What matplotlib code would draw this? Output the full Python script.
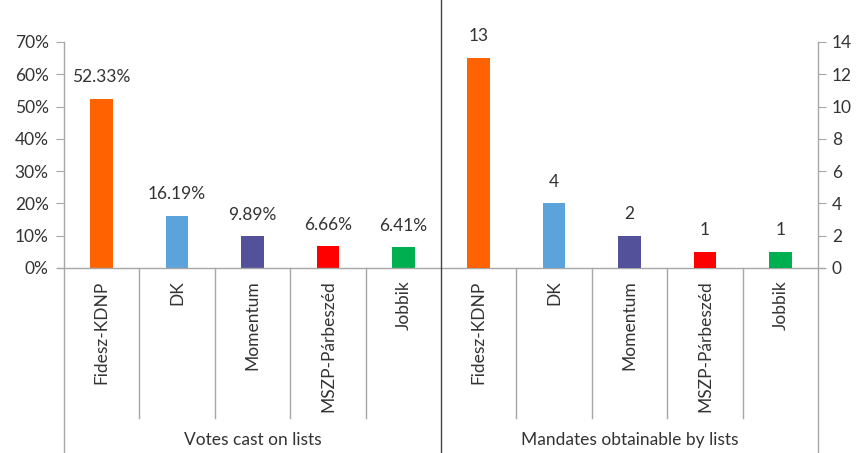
import matplotlib.pyplot as plt
import matplotlib.transforms as mtransforms

parties = ['Fidesz-KDNP', 'DK', 'Momentum', 'MSZP-Párbeszéd', 'Jobbik']
colors = ['#FF6200', '#5BA3DA', '#525199', '#FF0000', '#00B050']
votes = [52.33, 16.19, 9.89, 6.66, 6.41]
mandates = [13, 4, 2, 1, 1]
groups = ['Votes cast on lists', 'Mandates obtainable by lists']

plt.rcParams['font.family'] = ['Lato', 'DejaVu Sans']
txt = '#333333'
grey = '#A6A6A6'
fs = 12.5

fig = plt.figure(figsize=(8.56, 4.53), dpi=100)
ax = fig.add_axes([64/856, 185/453, 754/856, 226/453])
ax2 = ax.twinx()

n = len(parties)
xv = [i + 0.5 for i in range(n)]
xm = [n + i + 0.5 for i in range(n)]

ax.bar(xv, votes, width=0.3, color=colors)
for x, v in zip(xv, votes):
    ax.text(x, v + 4.2, f'{v:.2f}%', ha='center', va='bottom', fontsize=fs, color=txt)

ax2.bar(xm, mandates, width=0.3, color=colors)
for x, v in zip(xm, mandates):
    ax2.text(x, v + 0.85, str(v), ha='center', va='bottom', fontsize=fs, color=txt)

ax.set_xlim(0, 2 * n)
ax.set_ylim(0, 70)
ax2.set_ylim(0, 14)
ax.set_yticks(range(0, 71, 10))
ax.set_yticklabels([f'{t}%' for t in range(0, 71, 10)])
ax2.set_yticks(range(0, 15, 2))

ax.set_xticks(xv + xm)
ax.set_xticklabels(parties * 2, rotation=90, va='top', ha='center')
ax.tick_params(axis='x', length=0, pad=9, labelsize=fs, labelcolor=txt)
ax.tick_params(axis='y', length=6, color=grey, labelsize=fs, labelcolor=txt, pad=5)
ax2.tick_params(axis='y', length=6, color=grey, labelsize=fs, labelcolor=txt, pad=4)

for a in (ax, ax2):
    for s in a.spines.values():
        s.set_visible(False)

trans = mtransforms.blended_transform_factory(ax.transData, ax.transAxes)
h = 185 / 226  # axes height units below baseline down to figure bottom
sep = 150 / 226
# baseline
ax.plot([-0.08, 2 * n + 0.08], [0, 0], transform=trans, color=grey, lw=1, clip_on=False)
# category separators
for i in range(1, 2 * n):
    if i == n:
        continue
    ax.plot([i, i], [0, -sep], transform=trans, color=grey, lw=1, clip_on=False)
# outer spines and middle divider
ax.plot([0, 0], [1, -h], transform=trans, color=grey, lw=1, clip_on=False)
ax.plot([2 * n, 2 * n], [1, -h], transform=trans, color=grey, lw=1, clip_on=False)
ax.plot([n, n], [1 + 42 / 226, -h], transform=trans, color='#444444', lw=1, clip_on=False)

for k, g in enumerate(groups):
    ax.text(k * n + n / 2, -172 / 226, g, transform=trans, ha='center', va='center',
            fontsize=fs, color=txt)

fig.savefig('out.png', dpi=100)
